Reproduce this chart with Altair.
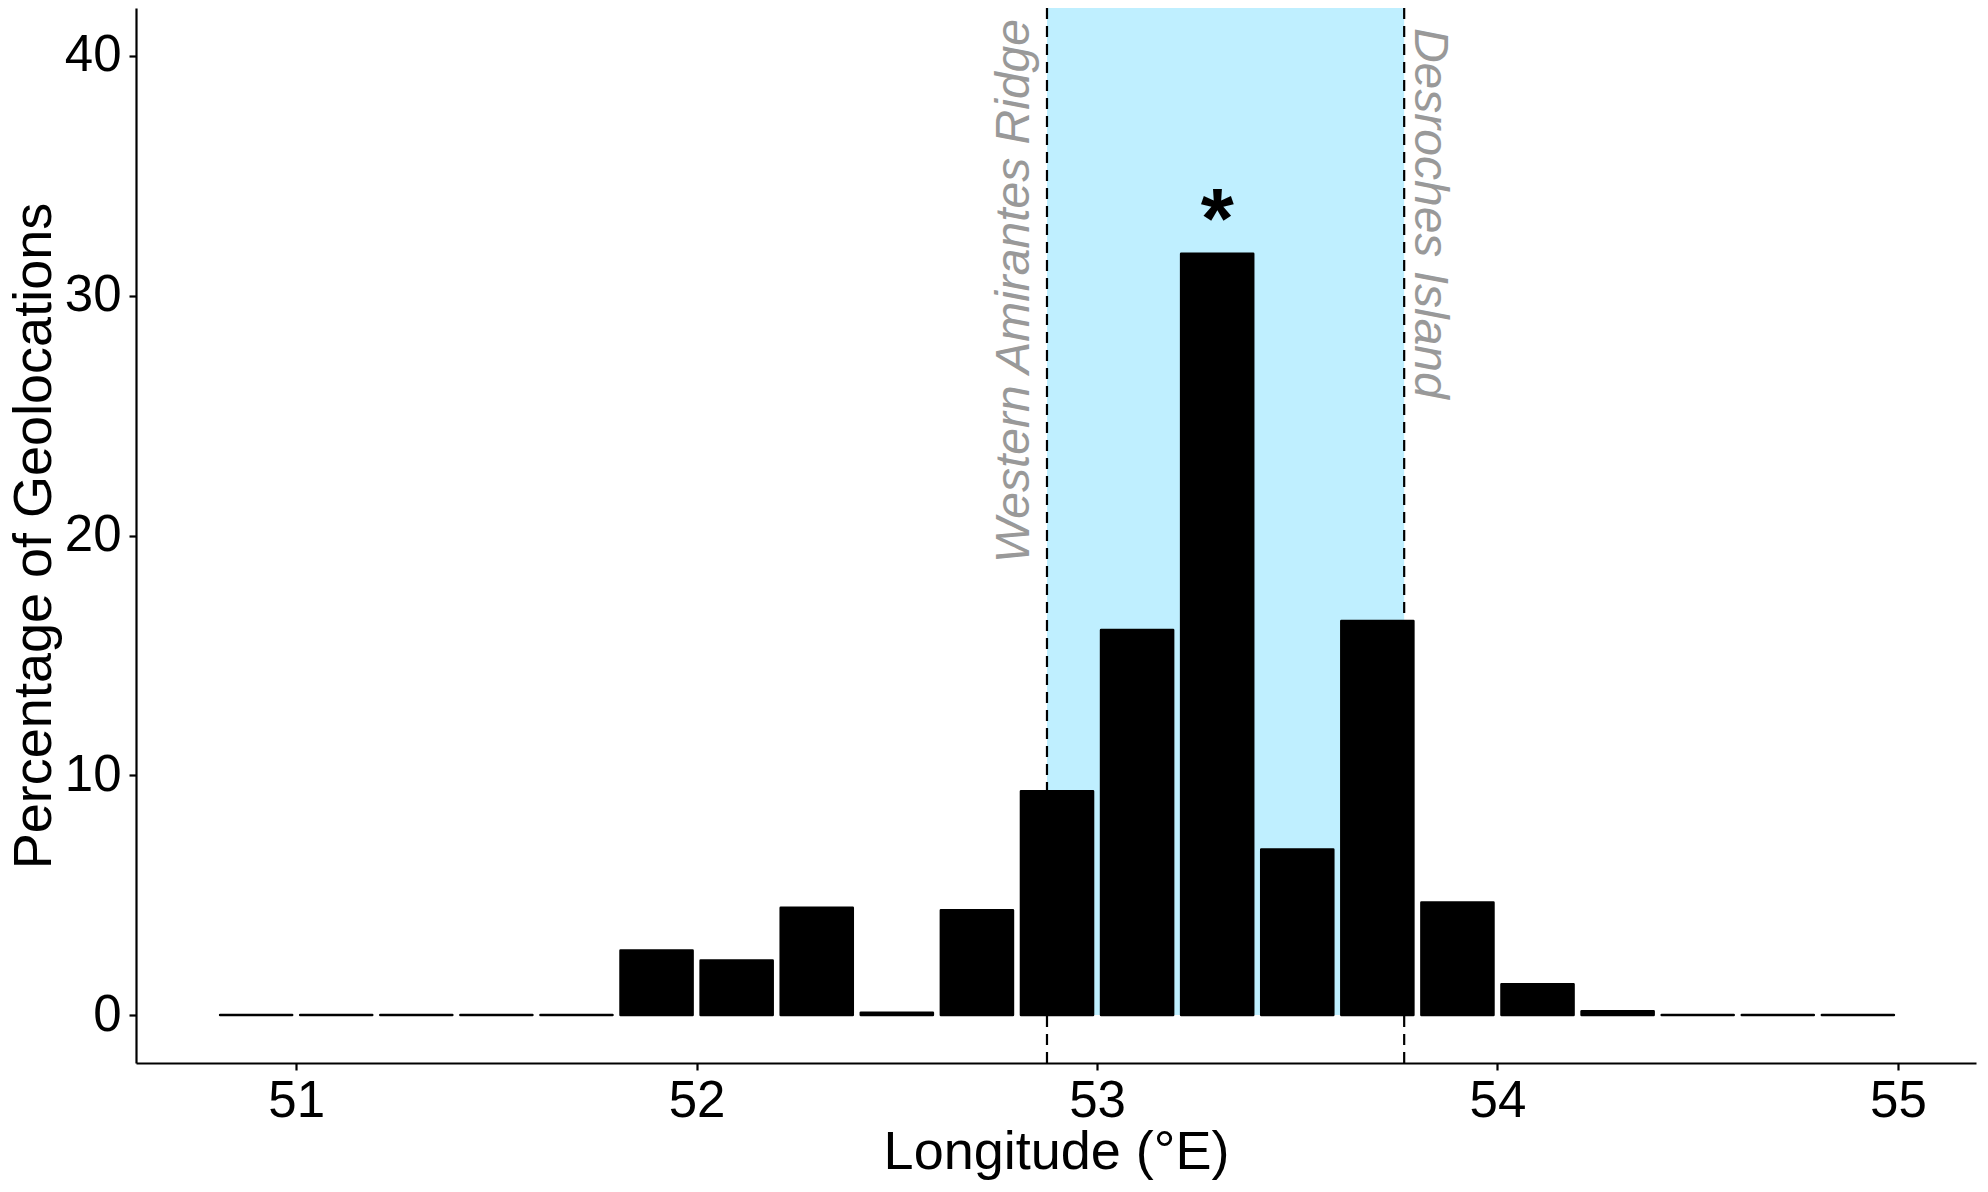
import altair as alt
import pandas as pd

# ---- data ----
lon_centers = [50.9, 51.1, 51.3, 51.5, 51.7, 51.9, 52.1, 52.3, 52.5, 52.7, 52.9,
               53.1, 53.3, 53.5, 53.7, 53.9, 54.1, 54.3, 54.5, 54.7, 54.9]
percent = [0, 0, 0, 0, 0, 2.69, 2.27, 4.47, 0.1, 4.37, 9.33,
           16.06, 31.75, 6.9, 16.43, 4.69, 1.28, 0.16, 0, 0, 0]
boundary_lon = [52.875, 53.767]
boundary_names = ["Western Amirantes Ridge", "Desroches Island"]
x_ticks = [51, 52, 53, 54, 55]
y_ticks = [0, 10, 20, 30, 40]
peak_lon = 53.3
peak_mark = "*"

# ---- styling ----
W, H = 1840, 1055
bar_half = 0.09
FONT = "Liberation Sans"
band_color = "#BFEFFF"
label_gray = "#999999"

x_scale = alt.Scale(domain=[50.6, 55.195], nice=False, zero=False)
y_scale = alt.Scale(domain=[-2, 42], nice=False, zero=False)

bars_df = pd.DataFrame({"lon": lon_centers, "pct": percent})
bars_df["x0"] = bars_df["lon"] - bar_half
bars_df["x1"] = bars_df["lon"] + bar_half
bars_df["base"] = 0.0

band_df = pd.DataFrame({"start": [boundary_lon[0]], "end": [boundary_lon[1]], "base": [0.0]})
rules_df = pd.DataFrame({"lon": boundary_lon})

x_axis = alt.Axis(values=x_ticks, format="d", title="Longitude (°E)", grid=False,
                  labelFontSize=51, titleFontSize=54, labelFont=FONT, titleFont=FONT,
                  labelColor="black", titleColor="black", titleFontWeight="normal",
                  domainColor="black", domainWidth=2.2, tickColor="black", tickWidth=2.2,
                  tickSize=7, labelPadding=6, titleY=105, titleBaseline="alphabetic",
                  labelFlush=False)
y_axis = alt.Axis(values=y_ticks, format="d", title="Percentage of Geolocations", grid=False,
                  labelFontSize=51, titleFontSize=54, labelFont=FONT, titleFont=FONT,
                  labelColor="black", titleColor="black", titleFontWeight="normal",
                  domainColor="black", domainWidth=2.2, tickColor="black", tickWidth=2.2,
                  tickSize=7, labelPadding=8, titleX=-86, titleY=H / 2,
                  titleAngle=270, titleBaseline="alphabetic", titleAlign="center")

band = alt.Chart(band_df).mark_rect(color=band_color).encode(
    x=alt.X("start:Q", scale=x_scale, axis=x_axis),
    x2="end:Q",
    y=alt.Y("base:Q", scale=y_scale, axis=y_axis),
    y2=alt.value(0),
)

rules = alt.Chart(rules_df).mark_rule(color="black", strokeDash=[11, 7], strokeWidth=2.2).encode(
    x=alt.X("lon:Q", scale=x_scale),
    y=alt.value(0),
    y2=alt.value(H),
)

bars = alt.Chart(bars_df).mark_bar(color="black", stroke="black", strokeWidth=2.5,
                                   strokeJoin="round").encode(
    x=alt.X("x0:Q", scale=x_scale),
    x2="x1:Q",
    y=alt.Y("pct:Q", scale=y_scale),
    y2="base:Q",
)

west_df = pd.DataFrame({"lon": [52.831], "y": [41.54], "t": [boundary_names[0]]})
east_df = pd.DataFrame({"lon": [53.794], "y": [41.17], "t": [boundary_names[1]]})

west_txt = alt.Chart(west_df).mark_text(angle=270, align="right", baseline="alphabetic",
                                        fontSize=48, font=FONT, fontStyle="italic",
                                        color=label_gray).encode(
    x=alt.X("lon:Q", scale=x_scale), y=alt.Y("y:Q", scale=y_scale), text="t:N")

east_txt = alt.Chart(east_df).mark_text(angle=90, align="left", baseline="alphabetic",
                                        fontSize=48, font=FONT, fontStyle="italic",
                                        color=label_gray).encode(
    x=alt.X("lon:Q", scale=x_scale), y=alt.Y("y:Q", scale=y_scale), text="t:N")

peak_df = pd.DataFrame({"lon": [peak_lon], "y": [32.0], "t": [peak_mark]})
peak_txt = alt.Chart(peak_df).mark_text(align="center", baseline="alphabetic", fontSize=85,
                                        font=FONT, fontWeight="bold", color="black").encode(
    x=alt.X("lon:Q", scale=x_scale), y=alt.Y("y:Q", scale=y_scale), text="t:N")

chart = alt.layer(band, rules, bars, west_txt, east_txt, peak_txt).properties(
    width=W, height=H,
    autosize=alt.AutoSizeParams(type="none"),
    padding={"left": 128, "top": 0, "right": 4, "bottom": 120},
).configure(font=FONT, background="white").configure_view(strokeWidth=0, stroke=None)

chart.save("out.html", embed_options={"renderer": "svg", "actions": False})
